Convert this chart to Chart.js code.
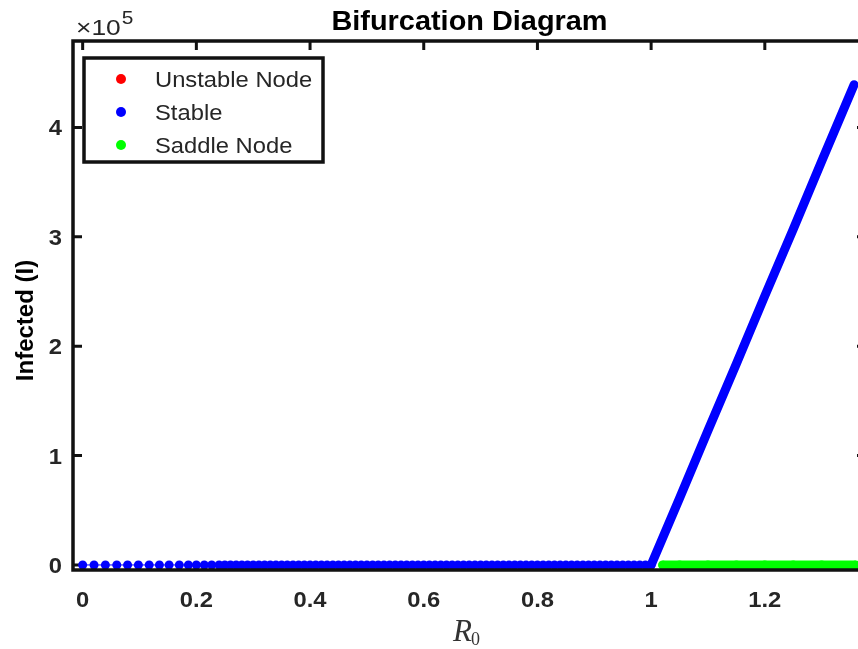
<!DOCTYPE html>
<html>
<head>
<meta charset="utf-8">
<title>Bifurcation Diagram</title>
<script src="https://cdn.jsdelivr.net/npm/chart.js@4"></script>
<style>
  html, body { margin: 0; padding: 0; background: #fff; overflow: hidden; }
  #wrap { width: 880px; height: 649px; }
</style>
</head>
<body>
<div id="wrap"><canvas id="bif" width="880" height="649"></canvas></div>
<script>
// Datos (R0 en x, infectados en y)
const unstableR0 = [];
const unstableI = [];

const stableR0 = [
  0, 0.02, 0.04, 0.06, 0.079, 0.098, 0.117, 0.135, 0.152, 0.17, 0.186, 0.2, 0.214, 0.227, 0.24,
  0.25, 0.26, 0.27, 0.28, 0.29, 0.3, 0.31, 0.32, 0.33, 0.34, 0.35, 0.36, 0.37, 0.38, 0.39,
  0.4, 0.41, 0.42, 0.43, 0.44, 0.45, 0.46, 0.47, 0.48, 0.49, 0.5, 0.51, 0.52, 0.53, 0.54,
  0.55, 0.56, 0.57, 0.58, 0.59, 0.6, 0.61, 0.62, 0.63, 0.64, 0.65, 0.66, 0.67, 0.68, 0.69,
  0.7, 0.71, 0.72, 0.73, 0.74, 0.75, 0.76, 0.77, 0.78, 0.79, 0.8, 0.81, 0.82, 0.83, 0.84,
  0.85, 0.86, 0.87, 0.88, 0.89, 0.9, 0.91, 0.92, 0.93, 0.94, 0.95, 0.96, 0.97, 0.98, 0.99,
  1.0, 1.05, 1.1, 1.15, 1.2, 1.25, 1.3, 1.357
];
const stableI = [
  0, 0, 0, 0, 0, 0, 0, 0, 0, 0, 0, 0, 0, 0, 0,
  0, 0, 0, 0, 0, 0, 0, 0, 0, 0, 0, 0, 0, 0, 0,
  0, 0, 0, 0, 0, 0, 0, 0, 0, 0, 0, 0, 0, 0, 0,
  0, 0, 0, 0, 0, 0, 0, 0, 0, 0, 0, 0, 0, 0, 0,
  0, 0, 0, 0, 0, 0, 0, 0, 0, 0, 0, 0, 0, 0, 0,
  0, 0, 0, 0, 0, 0, 0, 0, 0, 0, 0, 0, 0, 0, 0,
  0, 61000, 123000, 184000, 246000, 307000, 369000, 439000
];

const saddleR0 = [1.02, 1.05, 1.1, 1.15, 1.2, 1.25, 1.3, 1.36];
const saddleI = [0, 0, 0, 0, 0, 0, 0, 0];

const xTickVals = [0, 0.2, 0.4, 0.6, 0.8, 1, 1.2];
const xTickLabels = ['0', '0.2', '0.4', '0.6', '0.8', '1', '1.2'];
const yTickVals = [0, 100000, 200000, 300000, 400000];
const yTickLabels = ['0', '1', '2', '3', '4'];

const toPoints = (xs, ys) => xs.map((x, i) => ({ x: x, y: ys[i] }));

const tickColor = '#262626';
const sansFont = '"Liberation Sans", Arial, Helvetica, sans-serif';
const serifFont = '"Liberation Serif", "Times New Roman", serif';

// texto un poco ensanchado, como en la figura original
function wideText(ctx, txt, x, y, sx, align) {
  ctx.save();
  ctx.translate(x, y);
  ctx.scale(sx, 1);
  ctx.textAlign = align;
  ctx.fillText(txt, 0, 0);
  ctx.restore();
}

// Ejes tipo MATLAB: caja, marcas hacia dentro, leyenda y textos
const matlabAxes = {
  id: 'matlabAxes',
  beforeDatasetsDraw(chart) {
    const { ctx, chartArea: a, scales: { x, y } } = chart;
    const len = 9;
    ctx.save();
    ctx.strokeStyle = '#111';
    ctx.lineWidth = 3;
    ctx.beginPath();
    xTickVals.forEach(v => {
      const px = x.getPixelForValue(v);
      ctx.moveTo(px, a.bottom); ctx.lineTo(px, a.bottom - len);
      ctx.moveTo(px, a.top); ctx.lineTo(px, a.top + len);
    });
    yTickVals.forEach(v => {
      const py = y.getPixelForValue(v);
      ctx.moveTo(a.left, py); ctx.lineTo(a.left + len, py);
      ctx.moveTo(a.right, py); ctx.lineTo(a.right - len, py);
    });
    ctx.stroke();
    ctx.restore();
  },
  afterDatasetsDraw(chart) {
    const { ctx, chartArea: a } = chart;
    ctx.save();
    // caja de los ejes
    ctx.strokeStyle = '#111';
    ctx.lineWidth = 3.5;
    ctx.strokeRect(a.left, a.top, a.right - a.left, a.bottom - a.top);

    // leyenda
    const lx = 84, ly = 58, lw = 239, lh = 104;
    ctx.fillStyle = '#fff';
    ctx.fillRect(lx, ly, lw, lh);
    ctx.lineWidth = 3.5;
    ctx.strokeStyle = '#111';
    ctx.strokeRect(lx, ly, lw, lh);
    ctx.font = '22px ' + sansFont;
    ctx.textBaseline = 'alphabetic';
    chart.data.datasets.forEach((ds, i) => {
      const cy = 79 + i * 33;
      ctx.fillStyle = ds.pointBackgroundColor;
      ctx.beginPath();
      ctx.arc(121, cy, 5, 0, Math.PI * 2);
      ctx.fill();
      ctx.fillStyle = tickColor;
      wideText(ctx, ds.label, 155, cy + 8, 1.08, 'left');
    });
    ctx.restore();
  },
  afterDraw(chart) {
    const { ctx, chartArea: a, scales: { x, y } } = chart;
    ctx.save();
    ctx.textBaseline = 'alphabetic';

    // etiquetas de las marcas
    ctx.fillStyle = tickColor;
    ctx.font = 'bold 22px ' + sansFont;
    xTickVals.forEach((v, i) => {
      wideText(ctx, xTickLabels[i], x.getPixelForValue(v), 607, 1.08, 'center');
    });
    yTickVals.forEach((v, i) => {
      wideText(ctx, yTickLabels[i], 62, y.getPixelForValue(v) + 8, 1.08, 'right');
    });

    // titulo
    ctx.fillStyle = '#000';
    ctx.font = 'bold 27px ' + sansFont;
    wideText(ctx, 'Bifurcation Diagram', (a.left + a.right) / 2, 30, 1.07, 'center');

    // multiplicador x10^5
    ctx.fillStyle = tickColor;
    ctx.font = '22px ' + sansFont;
    wideText(ctx, '\u00d710', 76, 35, 1.2, 'left');
    const w = ctx.measureText('\u00d710').width * 1.2;
    ctx.font = '19px ' + sansFont;
    wideText(ctx, '5', 76 + w + 1, 24, 1.1, 'left');

    // etiqueta eje y
    ctx.save();
    ctx.translate(33, (a.top + a.bottom) / 2 + 15);
    ctx.rotate(-Math.PI / 2);
    ctx.textAlign = 'center';
    ctx.font = 'bold 24px ' + sansFont;
    ctx.fillStyle = '#000';
    ctx.fillText('Infected (I)', 0, 0);
    ctx.restore();

    // etiqueta eje x: R_0 en cursiva
    ctx.fillStyle = '#333';
    ctx.textAlign = 'left';
    ctx.font = 'italic 31px ' + serifFont;
    const rx = 453;
    ctx.fillText('R', rx, 641);
    const rw = ctx.measureText('R').width;
    ctx.font = '18px ' + serifFont;
    ctx.fillText('0', rx + rw - 1, 645);
    ctx.restore();
  }
};

const ctx = document.getElementById('bif').getContext('2d');
new Chart(ctx, {
  type: 'scatter',
  data: {
    datasets: [
      {
        label: 'Unstable Node',
        data: toPoints(unstableR0, unstableI),
        pointBackgroundColor: '#ff0000',
        pointBorderWidth: 0,
        pointRadius: 4.5
      },
      {
        label: 'Stable',
        data: toPoints(stableR0, stableI),
        pointBackgroundColor: '#0000ff',
        borderColor: '#0000ff',
        pointBorderWidth: 0,
        pointRadius: ctx => (ctx.raw && ctx.raw.x > 1 ? 0 : 4.5),
        showLine: true,
        borderCapStyle: 'round',
        segment: {
          borderWidth: s => (s.p0.parsed.x >= 1 ? 9 : 0)
        }
      },
      {
        label: 'Saddle Node',
        data: toPoints(saddleR0, saddleI),
        pointBackgroundColor: '#00ff00',
        borderColor: '#00ff00',
        pointBorderWidth: 0,
        pointRadius: 4.5,
        showLine: true,
        borderWidth: 9
      }
    ]
  },
  options: {
    responsive: false,
    animation: false,
    layout: { padding: { top: 41, right: 14, left: 0, bottom: 0 } },
    plugins: {
      legend: { display: false },
      tooltip: { enabled: false },
      title: { display: false }
    },
    scales: {
      x: {
        type: 'linear',
        min: -0.017,
        max: 1.378,
        afterBuildTicks: s => { s.ticks = xTickVals.map(v => ({ value: v })); },
        afterFit: s => { s.height = 79; },
        grid: { display: false, drawTicks: false },
        border: { display: false },
        ticks: { display: false }
      },
      y: {
        type: 'linear',
        min: -4600,
        max: 479000,
        afterBuildTicks: s => { s.ticks = yTickVals.map(v => ({ value: v })); },
        afterFit: s => { s.width = 73; },
        grid: { display: false, drawTicks: false },
        border: { display: false },
        ticks: { display: false }
      }
    }
  },
  plugins: [matlabAxes]
});
</script>
</body>
</html>
